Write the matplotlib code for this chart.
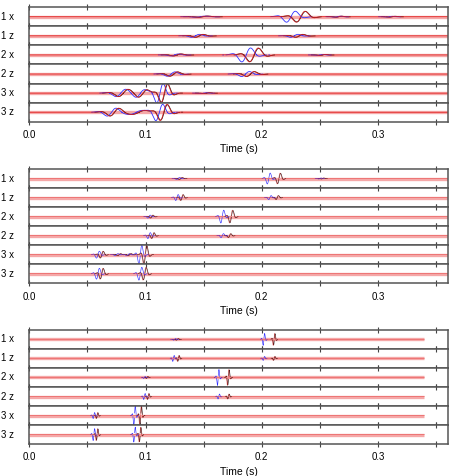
import numpy as np
import matplotlib.pyplot as plt

plt.rcParams['font.family'] = ['Liberation Sans', 'DejaVu Sans']

rows = ['1 x', '1 z', '2 x', '2 z', '3 x', '3 z']
tick_pos = [0.0, 0.05, 0.1, 0.15, 0.2, 0.25, 0.3, 0.35]
tick_lab = ['0.0', '', '0.1', '', '0.2', '', '0.3', '']

# events: row, arrival (blue), arrival (red/black), amplitude, period
p1_row = [0, 0, 0, 0, 1, 1, 2, 2, 2, 3, 3, 4, 4, 4, 4, 5, 5, 5]
p1_tb = [0.147, 0.2251, 0.265, 0.31, 0.143, 0.228, 0.125, 0.1866, 0.25, 0.122, 0.186,
         0.0786, 0.0955, 0.1124, 0.15, 0.0707, 0.092, 0.1118]
p1_tr = [0.149, 0.2335, 0.266, 0.312, 0.146, 0.232, 0.127, 0.1932, 0.252, 0.124, 0.190,
         0.0805, 0.0975, 0.1160, 0.152, 0.0730, 0.094, 0.1155]
p1_amp = [0.06, 0.55, 0.05, 0.04, 0.15, 0.15, 0.1, 0.7, 0.05, 0.22, 0.25,
          0.35, 0.35, 0.95, 0.04, 0.38, 0.2, 0.8]
p1_per = [0.02, 0.018, 0.012, 0.012, 0.016, 0.015, 0.016, 0.018, 0.012, 0.016, 0.016,
          0.019, 0.017, 0.013, 0.012, 0.018, 0.025, 0.014]

p2_row = [0, 0, 0, 1, 1, 2, 2, 3, 3, 4, 4, 4, 4, 5, 5]
p2_tb = [0.128, 0.206, 0.25, 0.127, 0.207, 0.103, 0.166, 0.103, 0.166,
         0.059, 0.075, 0.085, 0.0955, 0.059, 0.0955]
p2_tr = [0.130, 0.2145, 0.252, 0.131, 0.213, 0.105, 0.1735, 0.106, 0.172,
         0.062, 0.077, 0.086, 0.0995, 0.062, 0.099]
p2_amp = [0.1, 0.55, 0.05, 0.3, 0.2, 0.15, 0.65, 0.3, 0.2,
          0.35, 0.1, 0.1, 0.95, 0.55, 0.65]
p2_per = [0.006, 0.006, 0.005, 0.005, 0.005, 0.005, 0.006, 0.005, 0.005,
          0.006, 0.006, 0.006, 0.006, 0.006, 0.006]

p3_row = [0, 0, 1, 1, 2, 2, 3, 3, 4, 4, 5, 5]
p3_tb = [0.125, 0.2018, 0.124, 0.2018, 0.099, 0.1625, 0.099, 0.163, 0.0555, 0.0905, 0.0555, 0.0905]
p3_tr = [0.127, 0.2104, 0.128, 0.2104, 0.101, 0.171, 0.102, 0.171, 0.058, 0.0955, 0.058, 0.095]
p3_amp = [0.08, 0.6, 0.3, 0.2, 0.1, 0.8, 0.3, 0.25, 0.3, 1.0, 0.6, 0.75]
p3_per = [0.004, 0.003, 0.003, 0.003, 0.003, 0.003, 0.003, 0.003, 0.003, 0.003, 0.003, 0.003]

panels = [
    (p1_row, p1_tb, p1_tr, p1_amp, p1_per, 0.36, 0.6, 0.9),
    (p2_row, p2_tb, p2_tr, p2_amp, p2_per, 0.36, 0.45, 0.55),
    (p3_row, p3_tb, p3_tr, p3_amp, p3_per, 0.34, 0.45, 0.55),
]
tops = [0.985, 0.645, 0.307]
bottoms = [0.744, 0.405, 0.067]


def trace(t, times, amps, pers):
    y = np.zeros_like(t)
    for t0, a, T in zip(times, amps, pers):
        y += a / 0.78 * np.exp(-((t - t0) / (0.5 * T)) ** 2) * np.sin(2 * np.pi * (t - t0) / T)
    return y


def hide_flat(y):
    return np.where(np.abs(y) < 0.004, np.nan, y)


fig = plt.figure(figsize=(4.52, 4.76), dpi=100)
left, right = 0.065, 0.9905

for (prow, tb, tr, amp, per, tend, lw, ra), top, bot in zip(panels, tops, bottoms):
    h = (top - bot) / 6
    t = np.arange(0, tend, 0.0001)
    for i, lab in enumerate(rows):
        ax = fig.add_axes([left, top - (i + 1) * h, right - left, h])
        idx = [k for k in range(len(prow)) if prow[k] == i]
        yb = trace(t, [tb[k] for k in idx], [amp[k] for k in idx], [per[k] for k in idx])
        yr = trace(t, [tr[k] for k in idx], [amp[k] for k in idx], [per[k] for k in idx])
        yk = trace(t, [tr[k] + 0.0004 for k in idx], [amp[k] * 0.95 for k in idx], [per[k] for k in idx])
        ax.plot([0, tend], [0, 0], color='#f5a8a8', lw=2.4, solid_capstyle='butt')
        ax.plot(t, hide_flat(yk), color='#202020', lw=lw)
        ax.plot(t, hide_flat(yb), color='#3030ff', lw=lw)
        ax.plot(t, yr, color='#e01818', lw=lw, alpha=ra)
        ax.set_xlim(0, 0.36)
        ax.set_ylim(-1, 1)
        ax.set_yticks([])
        ax.set_xticks(tick_pos)
        ax.tick_params(axis='x', direction='inout', length=4, width=0.8, top=True,
                       color='#444444', labelsize=7, pad=4)
        for s in ax.spines.values():
            s.set_color('#555555')
            s.set_linewidth(1.1)
        ax.text(-0.036, 0.5, lab, transform=ax.transAxes, ha='right', va='center', fontsize=7)
        if i == 5:
            ax.set_xticklabels(tick_lab)
            ax.set_xlabel('Time (s)', fontsize=7.5, labelpad=3)
        else:
            ax.set_xticklabels([])

fig.savefig('out.png', dpi=100)
